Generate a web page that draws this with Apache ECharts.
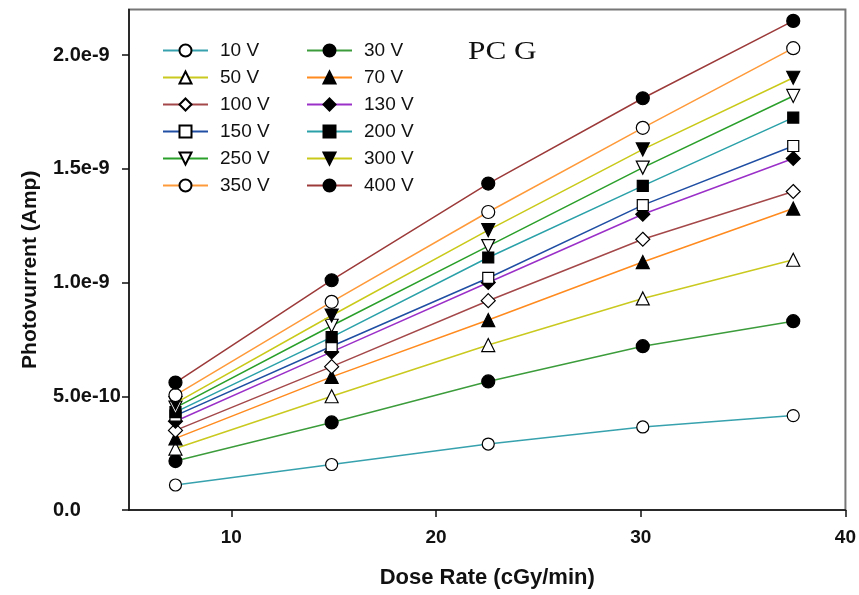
<!DOCTYPE html>
<html>
<head>
<meta charset="utf-8">
<script src="https://cdn.jsdelivr.net/npm/echarts@6/dist/echarts.min.js"></script>
<style>
  html, body { margin: 0; padding: 0; background: #fff; }
  #chart { width: 859px; height: 595px; }
</style>
</head>
<body>
<div id="chart"></div>
<script>
// Dose rate (cGy/min) at each measurement
const doseRate = [7.27, 14.9, 22.55, 30.1, 37.45];

// Photocurrent per bias voltage, in units of 1e-9 A
const i10V  = [0.110, 0.200, 0.290, 0.365, 0.415];
const i30V  = [0.215, 0.385, 0.565, 0.720, 0.830];
const i50V  = [0.270, 0.500, 0.725, 0.930, 1.100];
const i70V  = [0.315, 0.585, 0.835, 1.090, 1.325];
const i100V = [0.350, 0.630, 0.920, 1.190, 1.400];
const i130V = [0.390, 0.695, 1.000, 1.300, 1.545];
const i150V = [0.415, 0.720, 1.020, 1.340, 1.600];
const i200V = [0.430, 0.760, 1.110, 1.425, 1.725];
const i250V = [0.450, 0.810, 1.160, 1.505, 1.820];
const i300V = [0.470, 0.855, 1.230, 1.585, 1.900];
const i350V = [0.505, 0.915, 1.310, 1.680, 2.030];
const i400V = [0.560, 1.010, 1.435, 1.810, 2.150];

const seriesNames = ['10 V', '30 V', '50 V', '70 V', '100 V', '130 V',
                     '150 V', '200 V', '250 V', '300 V', '350 V', '400 V'];
const seriesValues = [i10V, i30V, i50V, i70V, i100V, i130V,
                      i150V, i200V, i250V, i300V, i350V, i400V];

// Axis tick labels
const xTicks = [10, 20, 30, 40];
const yTicks = [0, 0.5, 1.0, 1.5, 2.0];

// Line colour and marker look per series
const styles = [
  { color: '#37a2ae', symbol: 'circle',   filled: false, size: 12 },
  { color: '#3c9c3c', symbol: 'circle',   filled: true,  size: 13 },
  { color: '#c9c920', symbol: 'triangle', filled: false, size: 13 },
  { color: '#ff8a1e', symbol: 'triangle', filled: true,  size: 13 },
  { color: '#a4484a', symbol: 'diamond',  filled: false, size: 14 },
  { color: '#9b30c8', symbol: 'diamond',  filled: true,  size: 14 },
  { color: '#1f4ea3', symbol: 'rect',     filled: false, size: 11 },
  { color: '#2aa0a8', symbol: 'rect',     filled: true,  size: 11 },
  { color: '#2a9f2a', symbol: 'triangle', filled: false, size: 13, rotate: 180 },
  { color: '#c9c91a', symbol: 'triangle', filled: true,  size: 13, rotate: 180 },
  { color: '#ff9a3a', symbol: 'circle',   filled: false, size: 13 },
  { color: '#9c3a3a', symbol: 'circle',   filled: true,  size: 13 }
];

const series = seriesNames.map((name, k) => {
  const s = styles[k];
  return {
    name: name,
    type: 'line',
    data: doseRate.map((d, j) => [d, seriesValues[k][j]]),
    symbol: s.symbol,
    symbolSize: s.size,
    symbolRotate: s.rotate || 0,
    showAllSymbol: true,
    lineStyle: { color: s.color, width: 1.5 },
    itemStyle: { color: s.filled ? '#000' : '#fff', borderColor: '#000', borderWidth: 1.2 },
    emphasis: { disabled: true },
    z: 2 + k
  };
});

const legendBase = {
  orient: 'vertical',
  top: 36,
  itemWidth: 45,
  itemHeight: 15,
  itemGap: 8,
  selectedMode: false,
  textStyle: { fontFamily: 'Liberation Sans', fontSize: 19, color: '#111', padding: [0, 0, 0, 7] }
};

const chart = echarts.init(document.getElementById('chart'), null, { renderer: 'canvas' });
chart.setOption({
  animation: false,
  backgroundColor: '#fff',
  grid: {
    left: 129, right: 11, top: 9.5, bottom: 85,
    show: true, borderColor: '#777', borderWidth: 2, backgroundColor: 'transparent'
  },
  legend: [
    Object.assign({}, legendBase, { left: 157, data: ['10 V', '50 V', '100 V', '150 V', '250 V', '350 V'] }),
    Object.assign({}, legendBase, { left: 301, data: ['30 V', '70 V', '130 V', '200 V', '300 V', '400 V'] })
  ],
  xAxis: {
    type: 'value',
    min: 5, max: 40,
    name: 'Dose Rate (cGy/min)',
    nameLocation: 'middle',
    nameGap: 57,
    nameTextStyle: { fontFamily: 'Liberation Sans', fontWeight: 'bold', fontSize: 22, color: '#111' },
    axisLine: { onZero: false, lineStyle: { color: '#111', width: 1.5 } },
    axisTick: { show: true, inside: false, length: 7, customValues: xTicks, lineStyle: { color: '#111', width: 1.5 } },
    axisLabel: {
      customValues: xTicks, margin: 18,
      fontFamily: 'Liberation Sans', fontWeight: 'bold', fontSize: 19, color: '#111'
    },
    splitLine: { show: false }
  },
  yAxis: {
    type: 'value',
    min: 0, max: 2.2,
    name: 'Photovurrent (Amp)',
    nameLocation: 'middle',
    nameGap: 88,
    nameTextStyle: {
      fontFamily: 'Liberation Sans', fontWeight: 'bold', fontSize: 21, color: '#111',
      padding: [0, 20, 0, 0]
    },
    axisLine: { onZero: false, lineStyle: { color: '#111', width: 1.5 } },
    axisTick: { show: true, inside: false, length: 7, customValues: yTicks, lineStyle: { color: '#111', width: 1.5 } },
    axisLabel: {
      customValues: yTicks,
      align: 'left', margin: 76,
      fontFamily: 'Liberation Sans', fontWeight: 'bold', fontSize: 20, color: '#111',
      formatter: v => v === 0 ? '0.0' : (v * 1e-9).toExponential(1)
    },
    splitLine: { show: false }
  },
  graphic: [{
    type: 'text',
    left: 468, top: 40,
    style: { text: 'PC G', font: '25px "Liberation Serif"', fill: '#111' },
    scaleX: 1.25
  }],
  series: series
});
</script>
</body>
</html>
